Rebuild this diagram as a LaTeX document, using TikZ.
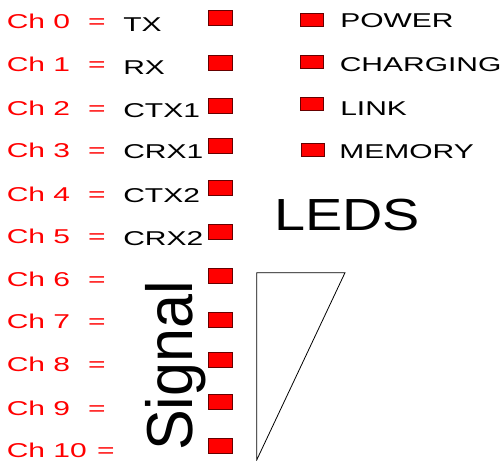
\documentclass[tikz,border=0pt]{standalone}
\usepackage{fontspec}
\setmainfont{Liberation Sans}
\tikzset{
  chlabel/.style={text=red, font=\fontsize{20}{24}\selectfont, xscale=1.5, inner sep=0pt, anchor=base west},
  eqsign/.style={text=red, font=\fontsize{20}{24}\selectfont, xscale=1.5, inner sep=0pt, anchor=base},
  vallabel/.style={text=black, font=\fontsize{20}{24}\selectfont, xscale=1.5, inner sep=0pt, anchor=base west},
  ledbox/.style={draw=red!40!black, fill=red, line width=0.8pt, minimum width=24pt, minimum height=15pt, inner sep=0pt},
  bigtitle/.style={text=black, inner sep=0pt, anchor=base west}
}
\begin{document}
\begin{tikzpicture}[x=1pt,y=-1pt]
	\useasboundingbox (0,0) rectangle (504,461);

	% Channel labels
	\foreach \n/\yb/\ex in {0/28/97,1/71/97,2/115/97,3/157/97,4/201/97,5/243/97,6/286/97,7/328/97,8/371/97,9/415/97,10/457/106}{
		\node[chlabel] (ch\n) at (6.5,\yb) {Ch \n};
		\node[eqsign] (eq\n) at (\ex,\yb) {=};
	}

	% Signal names
	\foreach \n/\yb/\txt in {0/31/TX,1/74/RX,2/117/CTX1,3/158/CRX1,4/202/CTX2,5/245/CRX2}
		\node[vallabel] (val\n) at (123,\yb) {\txt};

	% Channel LEDs
	\foreach \n/\yc in {0/18,1/63,2/106,3/146,4/188,5/232,6/276,7/320,8/360,9/402,10/446}
		\node[ledbox] (led\n) at (220,\yc) {};

	% Status LEDs
	\foreach \n/\xc/\yc/\xt/\yb/\txt in {1/311.5/20/340/27/POWER,2/311.5/62/339.5/71/CHARGING,3/311.5/104/340/115/LINK,4/313/150/339/158/MEMORY}{
		\node[ledbox, minimum width=23pt, minimum height=13pt] (sled\n) at (\xc,\yc) {};
		\node[vallabel] (stat\n) at (\xt,\yb) {\txt};
	}

	% Titles
	\node[bigtitle, font=\fontsize{45}{50}\selectfont, xscale=1.24] (leds) at (274,230) {LEDS};
	\node[bigtitle, font=\fontsize{65}{70}\selectfont, rotate=90] (signal) at (192,451) {\scalebox{0.94}[1]{Signal}};

	% Wedge
	\draw[line width=0.8pt] (256.7,272.7) -- (345,272.7) -- (256.7,460) -- cycle;
\end{tikzpicture}
\end{document}
